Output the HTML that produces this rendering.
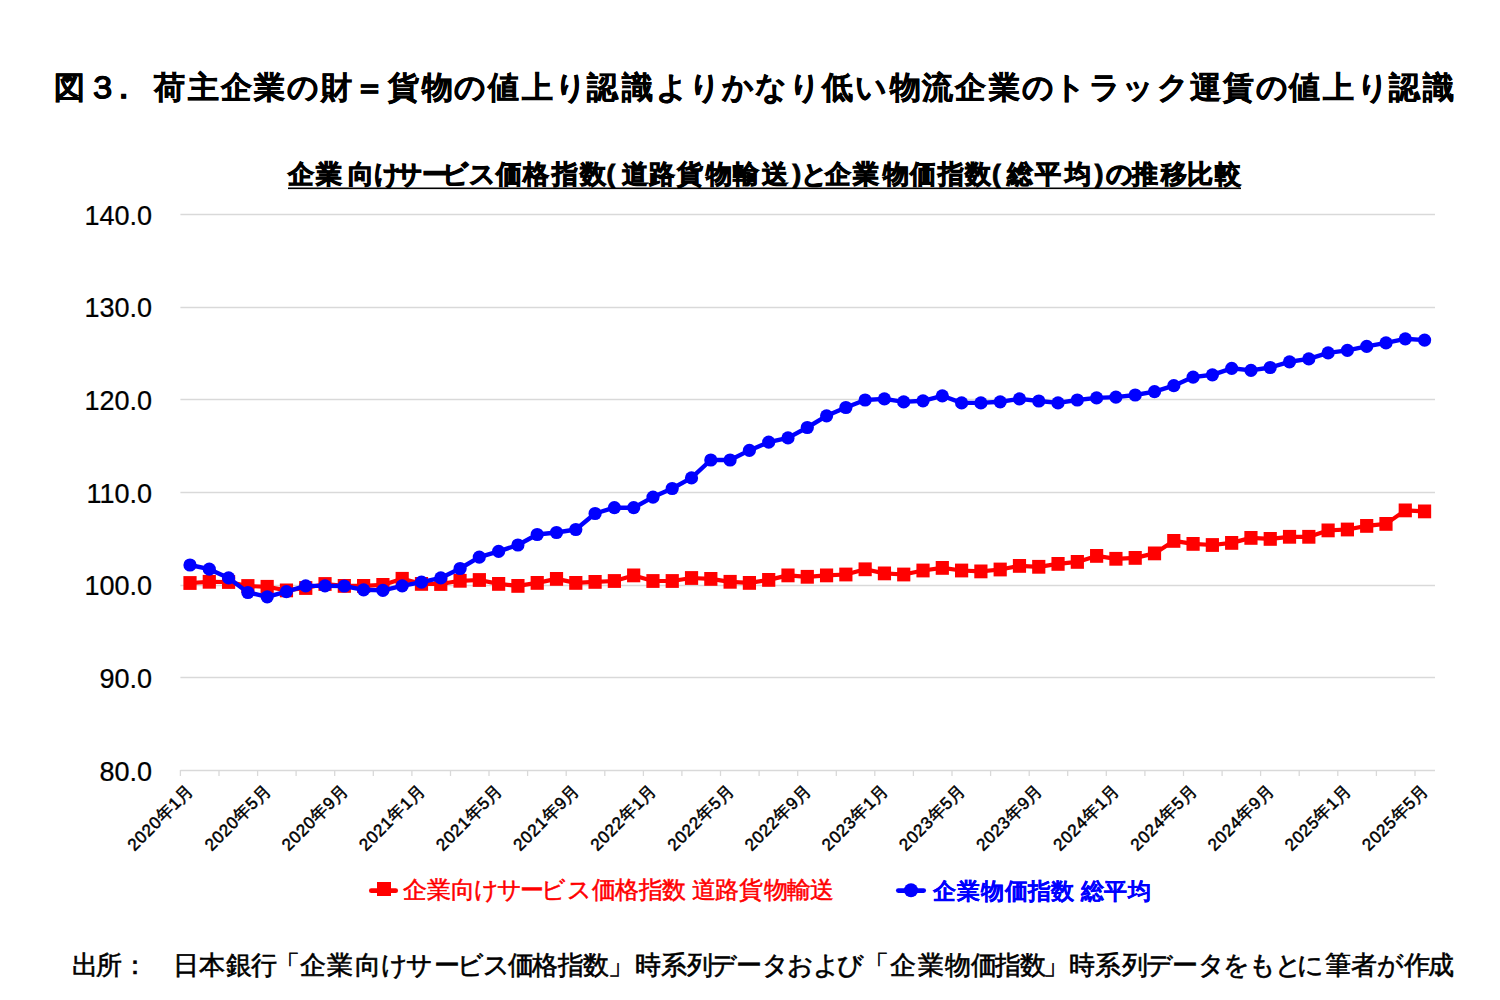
<!DOCTYPE html>
<html><head><meta charset="utf-8"><title>chart</title>
<style>
html,body{margin:0;padding:0;background:#fff;}
svg{display:block;}
text{font-family:'Liberation Sans', sans-serif;}
</style></head><body>
<svg width="1500" height="1000" viewBox="0 0 1500 1000">
<rect width="1500" height="1000" fill="#fff"/>
<text stroke="#000" stroke-width="0.5" x="54.0 86.9 107.5 154.2 187.6 220.5 254.4 287.3 320.7 354.1 387.5 422.4 454.3 487.7 521.6 555.0 587.4 621.8 655.7 688.6 721.5 755.4 788.8 821.7 854.6 890.0 921.9 955.3 989.2 1022.1 1053.5 1089.4 1122.3 1157.2 1189.6 1223.0 1255.9 1289.3 1323.2 1356.6 1389.0 1423.4" y="98.3" font-size="31" font-weight="bold" fill="#000">図３．荷主企業の財＝貨物の値上り認識よりかなり低い物流企業のトラック運賃の値上り認識</text>
<text stroke="#000" stroke-width="0.9" x="287.6 316.0 347.9 374.2 396.4 421.5 441.9 468.5 495.9 523.0 552.0 579.6 606.4 621.9 649.0 677.0 706.1 733.0 761.9 792.4 800.8 825.3 853.3 882.9 910.2 938.0 965.3 992.0 1007.3 1035.3 1064.5 1094.7 1105.8 1131.7 1160.5 1186.5 1215.0" y="183.3" font-size="26" font-weight="bold" fill="#000">企業向けサービス価格指数(道路貨物輸送)と企業物価指数(総平均)の推移比較</text>
<rect x="288" y="187.5" width="953" height="1.6" fill="#000"/>
<line x1="180.4" y1="214.5" x2="1435" y2="214.5" stroke="#d9d9d9" stroke-width="1.3"/>
<text transform="translate(152,224.6) scale(0.965,1)" font-size="28" fill="#000" text-anchor="end" stroke="#000" stroke-width="0.25">140.0</text>
<line x1="180.4" y1="307.5" x2="1435" y2="307.5" stroke="#d9d9d9" stroke-width="1.3"/>
<text transform="translate(152,317.3) scale(0.965,1)" font-size="28" fill="#000" text-anchor="end" stroke="#000" stroke-width="0.25">130.0</text>
<line x1="180.4" y1="399.5" x2="1435" y2="399.5" stroke="#d9d9d9" stroke-width="1.3"/>
<text transform="translate(152,409.9) scale(0.965,1)" font-size="28" fill="#000" text-anchor="end" stroke="#000" stroke-width="0.25">120.0</text>
<line x1="180.4" y1="492.5" x2="1435" y2="492.5" stroke="#d9d9d9" stroke-width="1.3"/>
<text transform="translate(152,502.6) scale(0.965,1)" font-size="28" fill="#000" text-anchor="end" stroke="#000" stroke-width="0.25">110.0</text>
<line x1="180.4" y1="585.5" x2="1435" y2="585.5" stroke="#d9d9d9" stroke-width="1.3"/>
<text transform="translate(152,595.3) scale(0.965,1)" font-size="28" fill="#000" text-anchor="end" stroke="#000" stroke-width="0.25">100.0</text>
<line x1="180.4" y1="677.5" x2="1435" y2="677.5" stroke="#d9d9d9" stroke-width="1.3"/>
<text transform="translate(152,687.9) scale(0.965,1)" font-size="28" fill="#000" text-anchor="end" stroke="#000" stroke-width="0.25">90.0</text>
<text transform="translate(152,780.6) scale(0.965,1)" font-size="28" fill="#000" text-anchor="end" stroke="#000" stroke-width="0.25">80.0</text>
<line x1="180.4" y1="770.5" x2="1435" y2="770.5" stroke="#d9d9d9" stroke-width="1.5"/>
<line x1="180.4" y1="770" x2="180.4" y2="776" stroke="#d9d9d9" stroke-width="1.3"/>
<line x1="219.0" y1="770" x2="219.0" y2="776" stroke="#d9d9d9" stroke-width="1.3"/>
<line x1="257.6" y1="770" x2="257.6" y2="776" stroke="#d9d9d9" stroke-width="1.3"/>
<line x1="296.1" y1="770" x2="296.1" y2="776" stroke="#d9d9d9" stroke-width="1.3"/>
<line x1="334.7" y1="770" x2="334.7" y2="776" stroke="#d9d9d9" stroke-width="1.3"/>
<line x1="373.3" y1="770" x2="373.3" y2="776" stroke="#d9d9d9" stroke-width="1.3"/>
<line x1="411.9" y1="770" x2="411.9" y2="776" stroke="#d9d9d9" stroke-width="1.3"/>
<line x1="450.5" y1="770" x2="450.5" y2="776" stroke="#d9d9d9" stroke-width="1.3"/>
<line x1="489.0" y1="770" x2="489.0" y2="776" stroke="#d9d9d9" stroke-width="1.3"/>
<line x1="527.6" y1="770" x2="527.6" y2="776" stroke="#d9d9d9" stroke-width="1.3"/>
<line x1="566.2" y1="770" x2="566.2" y2="776" stroke="#d9d9d9" stroke-width="1.3"/>
<line x1="604.8" y1="770" x2="604.8" y2="776" stroke="#d9d9d9" stroke-width="1.3"/>
<line x1="643.4" y1="770" x2="643.4" y2="776" stroke="#d9d9d9" stroke-width="1.3"/>
<line x1="681.9" y1="770" x2="681.9" y2="776" stroke="#d9d9d9" stroke-width="1.3"/>
<line x1="720.5" y1="770" x2="720.5" y2="776" stroke="#d9d9d9" stroke-width="1.3"/>
<line x1="759.1" y1="770" x2="759.1" y2="776" stroke="#d9d9d9" stroke-width="1.3"/>
<line x1="797.7" y1="770" x2="797.7" y2="776" stroke="#d9d9d9" stroke-width="1.3"/>
<line x1="836.3" y1="770" x2="836.3" y2="776" stroke="#d9d9d9" stroke-width="1.3"/>
<line x1="874.8" y1="770" x2="874.8" y2="776" stroke="#d9d9d9" stroke-width="1.3"/>
<line x1="913.4" y1="770" x2="913.4" y2="776" stroke="#d9d9d9" stroke-width="1.3"/>
<line x1="952.0" y1="770" x2="952.0" y2="776" stroke="#d9d9d9" stroke-width="1.3"/>
<line x1="990.6" y1="770" x2="990.6" y2="776" stroke="#d9d9d9" stroke-width="1.3"/>
<line x1="1029.2" y1="770" x2="1029.2" y2="776" stroke="#d9d9d9" stroke-width="1.3"/>
<line x1="1067.7" y1="770" x2="1067.7" y2="776" stroke="#d9d9d9" stroke-width="1.3"/>
<line x1="1106.3" y1="770" x2="1106.3" y2="776" stroke="#d9d9d9" stroke-width="1.3"/>
<line x1="1144.9" y1="770" x2="1144.9" y2="776" stroke="#d9d9d9" stroke-width="1.3"/>
<line x1="1183.5" y1="770" x2="1183.5" y2="776" stroke="#d9d9d9" stroke-width="1.3"/>
<line x1="1222.1" y1="770" x2="1222.1" y2="776" stroke="#d9d9d9" stroke-width="1.3"/>
<line x1="1260.6" y1="770" x2="1260.6" y2="776" stroke="#d9d9d9" stroke-width="1.3"/>
<line x1="1299.2" y1="770" x2="1299.2" y2="776" stroke="#d9d9d9" stroke-width="1.3"/>
<line x1="1337.8" y1="770" x2="1337.8" y2="776" stroke="#d9d9d9" stroke-width="1.3"/>
<line x1="1376.4" y1="770" x2="1376.4" y2="776" stroke="#d9d9d9" stroke-width="1.3"/>
<line x1="1415.0" y1="770" x2="1415.0" y2="776" stroke="#d9d9d9" stroke-width="1.3"/>
<text transform="translate(190.7,787) rotate(-45)" font-size="17" font-weight="normal" fill="#000" stroke="#000" stroke-width="0.5" letter-spacing="0.6" text-anchor="end" dy="0.35em">2020年1月</text>
<text transform="translate(267.9,787) rotate(-45)" font-size="17" font-weight="normal" fill="#000" stroke="#000" stroke-width="0.5" letter-spacing="0.6" text-anchor="end" dy="0.35em">2020年5月</text>
<text transform="translate(345.0,787) rotate(-45)" font-size="17" font-weight="normal" fill="#000" stroke="#000" stroke-width="0.5" letter-spacing="0.6" text-anchor="end" dy="0.35em">2020年9月</text>
<text transform="translate(422.2,787) rotate(-45)" font-size="17" font-weight="normal" fill="#000" stroke="#000" stroke-width="0.5" letter-spacing="0.6" text-anchor="end" dy="0.35em">2021年1月</text>
<text transform="translate(499.3,787) rotate(-45)" font-size="17" font-weight="normal" fill="#000" stroke="#000" stroke-width="0.5" letter-spacing="0.6" text-anchor="end" dy="0.35em">2021年5月</text>
<text transform="translate(576.5,787) rotate(-45)" font-size="17" font-weight="normal" fill="#000" stroke="#000" stroke-width="0.5" letter-spacing="0.6" text-anchor="end" dy="0.35em">2021年9月</text>
<text transform="translate(653.7,787) rotate(-45)" font-size="17" font-weight="normal" fill="#000" stroke="#000" stroke-width="0.5" letter-spacing="0.6" text-anchor="end" dy="0.35em">2022年1月</text>
<text transform="translate(730.8,787) rotate(-45)" font-size="17" font-weight="normal" fill="#000" stroke="#000" stroke-width="0.5" letter-spacing="0.6" text-anchor="end" dy="0.35em">2022年5月</text>
<text transform="translate(808.0,787) rotate(-45)" font-size="17" font-weight="normal" fill="#000" stroke="#000" stroke-width="0.5" letter-spacing="0.6" text-anchor="end" dy="0.35em">2022年9月</text>
<text transform="translate(885.1,787) rotate(-45)" font-size="17" font-weight="normal" fill="#000" stroke="#000" stroke-width="0.5" letter-spacing="0.6" text-anchor="end" dy="0.35em">2023年1月</text>
<text transform="translate(962.3,787) rotate(-45)" font-size="17" font-weight="normal" fill="#000" stroke="#000" stroke-width="0.5" letter-spacing="0.6" text-anchor="end" dy="0.35em">2023年5月</text>
<text transform="translate(1039.5,787) rotate(-45)" font-size="17" font-weight="normal" fill="#000" stroke="#000" stroke-width="0.5" letter-spacing="0.6" text-anchor="end" dy="0.35em">2023年9月</text>
<text transform="translate(1116.6,787) rotate(-45)" font-size="17" font-weight="normal" fill="#000" stroke="#000" stroke-width="0.5" letter-spacing="0.6" text-anchor="end" dy="0.35em">2024年1月</text>
<text transform="translate(1193.8,787) rotate(-45)" font-size="17" font-weight="normal" fill="#000" stroke="#000" stroke-width="0.5" letter-spacing="0.6" text-anchor="end" dy="0.35em">2024年5月</text>
<text transform="translate(1270.9,787) rotate(-45)" font-size="17" font-weight="normal" fill="#000" stroke="#000" stroke-width="0.5" letter-spacing="0.6" text-anchor="end" dy="0.35em">2024年9月</text>
<text transform="translate(1348.1,787) rotate(-45)" font-size="17" font-weight="normal" fill="#000" stroke="#000" stroke-width="0.5" letter-spacing="0.6" text-anchor="end" dy="0.35em">2025年1月</text>
<text transform="translate(1425.3,787) rotate(-45)" font-size="17" font-weight="normal" fill="#000" stroke="#000" stroke-width="0.5" letter-spacing="0.6" text-anchor="end" dy="0.35em">2025年5月</text>
<polyline points="190.0,583.0 209.3,581.8 228.6,582 247.9,586 267.2,586.8 286.4,590.4 305.7,588 325.0,584.0 344.3,585.9 363.6,585.9 382.9,584.9 402.2,578.8 421.5,583.9 440.8,584 460.1,580.8 479.3,580 498.6,583.9 517.9,585.9 537.2,582.9 556.5,578.9 575.8,582.9 595.1,581.9 614.4,581 633.7,575.4 653.0,581 672.2,581 691.5,578 710.8,578.9 730.1,581.8 749.4,582.9 768.7,579.9 788.0,575.4 807.3,576.8 826.6,575.4 845.9,574.5 865.1,569.3 884.4,573.4 903.7,574.5 923.0,570.5 942.3,567.9 961.6,570.5 980.9,571.4 1000.2,569.5 1019.5,565.9 1038.8,566.8 1058.0,563.9 1077.3,561.9 1096.6,555.9 1115.9,558.8 1135.2,557.9 1154.5,553.4 1173.8,540.9 1193.1,543.9 1212.4,545 1231.7,542.9 1251.0,537.9 1270.2,538.9 1289.5,536.8 1308.8,536.8 1328.1,530.4 1347.4,529.5 1366.7,525.9 1386.0,523.9 1405.3,510.4 1424.6,511.4" fill="none" stroke="#ff0000" stroke-width="4.2" stroke-linejoin="round"/>
<rect x="183.40" y="576.10" width="13.2" height="13.8" fill="#ff0000"/>
<rect x="202.69" y="574.90" width="13.2" height="13.8" fill="#ff0000"/>
<rect x="221.98" y="575.10" width="13.2" height="13.8" fill="#ff0000"/>
<rect x="241.27" y="579.10" width="13.2" height="13.8" fill="#ff0000"/>
<rect x="260.56" y="579.90" width="13.2" height="13.8" fill="#ff0000"/>
<rect x="279.85" y="583.50" width="13.2" height="13.8" fill="#ff0000"/>
<rect x="299.14" y="581.10" width="13.2" height="13.8" fill="#ff0000"/>
<rect x="318.43" y="577.10" width="13.2" height="13.8" fill="#ff0000"/>
<rect x="337.72" y="579.00" width="13.2" height="13.8" fill="#ff0000"/>
<rect x="357.01" y="579.00" width="13.2" height="13.8" fill="#ff0000"/>
<rect x="376.30" y="578.00" width="13.2" height="13.8" fill="#ff0000"/>
<rect x="395.59" y="571.90" width="13.2" height="13.8" fill="#ff0000"/>
<rect x="414.88" y="577.00" width="13.2" height="13.8" fill="#ff0000"/>
<rect x="434.17" y="577.10" width="13.2" height="13.8" fill="#ff0000"/>
<rect x="453.46" y="573.90" width="13.2" height="13.8" fill="#ff0000"/>
<rect x="472.75" y="573.10" width="13.2" height="13.8" fill="#ff0000"/>
<rect x="492.04" y="577.00" width="13.2" height="13.8" fill="#ff0000"/>
<rect x="511.33" y="579.00" width="13.2" height="13.8" fill="#ff0000"/>
<rect x="530.62" y="576.00" width="13.2" height="13.8" fill="#ff0000"/>
<rect x="549.91" y="572.00" width="13.2" height="13.8" fill="#ff0000"/>
<rect x="569.20" y="576.00" width="13.2" height="13.8" fill="#ff0000"/>
<rect x="588.49" y="575.00" width="13.2" height="13.8" fill="#ff0000"/>
<rect x="607.78" y="574.10" width="13.2" height="13.8" fill="#ff0000"/>
<rect x="627.07" y="568.50" width="13.2" height="13.8" fill="#ff0000"/>
<rect x="646.36" y="574.10" width="13.2" height="13.8" fill="#ff0000"/>
<rect x="665.65" y="574.10" width="13.2" height="13.8" fill="#ff0000"/>
<rect x="684.94" y="571.10" width="13.2" height="13.8" fill="#ff0000"/>
<rect x="704.23" y="572.00" width="13.2" height="13.8" fill="#ff0000"/>
<rect x="723.52" y="574.90" width="13.2" height="13.8" fill="#ff0000"/>
<rect x="742.81" y="576.00" width="13.2" height="13.8" fill="#ff0000"/>
<rect x="762.10" y="573.00" width="13.2" height="13.8" fill="#ff0000"/>
<rect x="781.39" y="568.50" width="13.2" height="13.8" fill="#ff0000"/>
<rect x="800.68" y="569.90" width="13.2" height="13.8" fill="#ff0000"/>
<rect x="819.97" y="568.50" width="13.2" height="13.8" fill="#ff0000"/>
<rect x="839.26" y="567.60" width="13.2" height="13.8" fill="#ff0000"/>
<rect x="858.55" y="562.40" width="13.2" height="13.8" fill="#ff0000"/>
<rect x="877.84" y="566.50" width="13.2" height="13.8" fill="#ff0000"/>
<rect x="897.13" y="567.60" width="13.2" height="13.8" fill="#ff0000"/>
<rect x="916.42" y="563.60" width="13.2" height="13.8" fill="#ff0000"/>
<rect x="935.71" y="561.00" width="13.2" height="13.8" fill="#ff0000"/>
<rect x="955.00" y="563.60" width="13.2" height="13.8" fill="#ff0000"/>
<rect x="974.29" y="564.50" width="13.2" height="13.8" fill="#ff0000"/>
<rect x="993.58" y="562.60" width="13.2" height="13.8" fill="#ff0000"/>
<rect x="1012.87" y="559.00" width="13.2" height="13.8" fill="#ff0000"/>
<rect x="1032.16" y="559.90" width="13.2" height="13.8" fill="#ff0000"/>
<rect x="1051.45" y="557.00" width="13.2" height="13.8" fill="#ff0000"/>
<rect x="1070.74" y="555.00" width="13.2" height="13.8" fill="#ff0000"/>
<rect x="1090.03" y="549.00" width="13.2" height="13.8" fill="#ff0000"/>
<rect x="1109.32" y="551.90" width="13.2" height="13.8" fill="#ff0000"/>
<rect x="1128.61" y="551.00" width="13.2" height="13.8" fill="#ff0000"/>
<rect x="1147.90" y="546.50" width="13.2" height="13.8" fill="#ff0000"/>
<rect x="1167.19" y="534.00" width="13.2" height="13.8" fill="#ff0000"/>
<rect x="1186.48" y="537.00" width="13.2" height="13.8" fill="#ff0000"/>
<rect x="1205.77" y="538.10" width="13.2" height="13.8" fill="#ff0000"/>
<rect x="1225.06" y="536.00" width="13.2" height="13.8" fill="#ff0000"/>
<rect x="1244.35" y="531.00" width="13.2" height="13.8" fill="#ff0000"/>
<rect x="1263.64" y="532.00" width="13.2" height="13.8" fill="#ff0000"/>
<rect x="1282.93" y="529.90" width="13.2" height="13.8" fill="#ff0000"/>
<rect x="1302.22" y="529.90" width="13.2" height="13.8" fill="#ff0000"/>
<rect x="1321.51" y="523.50" width="13.2" height="13.8" fill="#ff0000"/>
<rect x="1340.80" y="522.60" width="13.2" height="13.8" fill="#ff0000"/>
<rect x="1360.09" y="519.00" width="13.2" height="13.8" fill="#ff0000"/>
<rect x="1379.38" y="517.00" width="13.2" height="13.8" fill="#ff0000"/>
<rect x="1398.67" y="503.50" width="13.2" height="13.8" fill="#ff0000"/>
<rect x="1417.96" y="504.50" width="13.2" height="13.8" fill="#ff0000"/>
<polyline points="190.0,565 209.3,569.2 228.6,577.9 247.9,592.5 267.2,596.8 286.4,591.7 305.7,585.9 325.0,585.9 344.3,586 363.6,589.8 382.9,590.4 402.2,585.8 421.5,582.1 440.8,577.9 460.1,568.5 479.3,557.1 498.6,551.4 517.9,545 537.2,534.5 556.5,532.5 575.8,529.5 595.1,513.5 614.4,507.7 633.7,507.7 653.0,497.1 672.2,488.5 691.5,477.9 710.8,460 730.1,460 749.4,450.4 768.7,442.1 788.0,437.9 807.3,427.5 826.6,415.8 845.9,407.5 865.1,400 884.4,398.9 903.7,401.9 923.0,400.8 942.3,395.8 961.6,402.9 980.9,402.9 1000.2,401.8 1019.5,398.9 1038.8,401 1058.0,402.9 1077.3,400 1096.6,397.9 1115.9,397.1 1135.2,395 1154.5,391.7 1173.8,385.7 1193.1,377.1 1212.4,374.8 1231.7,368.3 1251.0,370.4 1270.2,367.5 1289.5,361.8 1308.8,358.9 1328.1,352.9 1347.4,350.4 1366.7,346.4 1386.0,342.9 1405.3,338.8 1424.6,340.1" fill="none" stroke="#0000ff" stroke-width="4.4" stroke-linejoin="round"/>
<circle cx="190.0" cy="565" r="6.6" fill="#0000ff"/>
<circle cx="209.3" cy="569.2" r="6.6" fill="#0000ff"/>
<circle cx="228.6" cy="577.9" r="6.6" fill="#0000ff"/>
<circle cx="247.9" cy="592.5" r="6.6" fill="#0000ff"/>
<circle cx="267.2" cy="596.8" r="6.6" fill="#0000ff"/>
<circle cx="286.4" cy="591.7" r="6.6" fill="#0000ff"/>
<circle cx="305.7" cy="585.9" r="6.6" fill="#0000ff"/>
<circle cx="325.0" cy="585.9" r="6.6" fill="#0000ff"/>
<circle cx="344.3" cy="586" r="6.6" fill="#0000ff"/>
<circle cx="363.6" cy="589.8" r="6.6" fill="#0000ff"/>
<circle cx="382.9" cy="590.4" r="6.6" fill="#0000ff"/>
<circle cx="402.2" cy="585.8" r="6.6" fill="#0000ff"/>
<circle cx="421.5" cy="582.1" r="6.6" fill="#0000ff"/>
<circle cx="440.8" cy="577.9" r="6.6" fill="#0000ff"/>
<circle cx="460.1" cy="568.5" r="6.6" fill="#0000ff"/>
<circle cx="479.3" cy="557.1" r="6.6" fill="#0000ff"/>
<circle cx="498.6" cy="551.4" r="6.6" fill="#0000ff"/>
<circle cx="517.9" cy="545" r="6.6" fill="#0000ff"/>
<circle cx="537.2" cy="534.5" r="6.6" fill="#0000ff"/>
<circle cx="556.5" cy="532.5" r="6.6" fill="#0000ff"/>
<circle cx="575.8" cy="529.5" r="6.6" fill="#0000ff"/>
<circle cx="595.1" cy="513.5" r="6.6" fill="#0000ff"/>
<circle cx="614.4" cy="507.7" r="6.6" fill="#0000ff"/>
<circle cx="633.7" cy="507.7" r="6.6" fill="#0000ff"/>
<circle cx="653.0" cy="497.1" r="6.6" fill="#0000ff"/>
<circle cx="672.2" cy="488.5" r="6.6" fill="#0000ff"/>
<circle cx="691.5" cy="477.9" r="6.6" fill="#0000ff"/>
<circle cx="710.8" cy="460" r="6.6" fill="#0000ff"/>
<circle cx="730.1" cy="460" r="6.6" fill="#0000ff"/>
<circle cx="749.4" cy="450.4" r="6.6" fill="#0000ff"/>
<circle cx="768.7" cy="442.1" r="6.6" fill="#0000ff"/>
<circle cx="788.0" cy="437.9" r="6.6" fill="#0000ff"/>
<circle cx="807.3" cy="427.5" r="6.6" fill="#0000ff"/>
<circle cx="826.6" cy="415.8" r="6.6" fill="#0000ff"/>
<circle cx="845.9" cy="407.5" r="6.6" fill="#0000ff"/>
<circle cx="865.1" cy="400" r="6.6" fill="#0000ff"/>
<circle cx="884.4" cy="398.9" r="6.6" fill="#0000ff"/>
<circle cx="903.7" cy="401.9" r="6.6" fill="#0000ff"/>
<circle cx="923.0" cy="400.8" r="6.6" fill="#0000ff"/>
<circle cx="942.3" cy="395.8" r="6.6" fill="#0000ff"/>
<circle cx="961.6" cy="402.9" r="6.6" fill="#0000ff"/>
<circle cx="980.9" cy="402.9" r="6.6" fill="#0000ff"/>
<circle cx="1000.2" cy="401.8" r="6.6" fill="#0000ff"/>
<circle cx="1019.5" cy="398.9" r="6.6" fill="#0000ff"/>
<circle cx="1038.8" cy="401" r="6.6" fill="#0000ff"/>
<circle cx="1058.0" cy="402.9" r="6.6" fill="#0000ff"/>
<circle cx="1077.3" cy="400" r="6.6" fill="#0000ff"/>
<circle cx="1096.6" cy="397.9" r="6.6" fill="#0000ff"/>
<circle cx="1115.9" cy="397.1" r="6.6" fill="#0000ff"/>
<circle cx="1135.2" cy="395" r="6.6" fill="#0000ff"/>
<circle cx="1154.5" cy="391.7" r="6.6" fill="#0000ff"/>
<circle cx="1173.8" cy="385.7" r="6.6" fill="#0000ff"/>
<circle cx="1193.1" cy="377.1" r="6.6" fill="#0000ff"/>
<circle cx="1212.4" cy="374.8" r="6.6" fill="#0000ff"/>
<circle cx="1231.7" cy="368.3" r="6.6" fill="#0000ff"/>
<circle cx="1251.0" cy="370.4" r="6.6" fill="#0000ff"/>
<circle cx="1270.2" cy="367.5" r="6.6" fill="#0000ff"/>
<circle cx="1289.5" cy="361.8" r="6.6" fill="#0000ff"/>
<circle cx="1308.8" cy="358.9" r="6.6" fill="#0000ff"/>
<circle cx="1328.1" cy="352.9" r="6.6" fill="#0000ff"/>
<circle cx="1347.4" cy="350.4" r="6.6" fill="#0000ff"/>
<circle cx="1366.7" cy="346.4" r="6.6" fill="#0000ff"/>
<circle cx="1386.0" cy="342.9" r="6.6" fill="#0000ff"/>
<circle cx="1405.3" cy="338.8" r="6.6" fill="#0000ff"/>
<circle cx="1424.6" cy="340.1" r="6.6" fill="#0000ff"/>
<line x1="371.3" y1="890.7" x2="395.7" y2="890.7" stroke="#ff0000" stroke-width="4.7" stroke-linecap="round"/>
<rect x="377" y="882" width="14" height="14" fill="#ff0000"/>
<text stroke="#ff0000" stroke-width="0.5" x="402.7 427.0 450.9 474.1 496.9 520.4 541.0 567.0 592.0 615.2 638.7 661.6 692.0 715.3 738.7 763.5 786.5 810.3" y="898.3" font-size="24" font-weight="normal" fill="#ff0000">企業向けサービス価格指数道路貨物輸送</text>
<line x1="898.3" y1="890.6" x2="923.7" y2="890.6" stroke="#0000ff" stroke-width="4.7" stroke-linecap="round"/>
<circle cx="911" cy="890.2" r="7" fill="#0000ff"/>
<text stroke="#0000ff" stroke-width="0.15" x="933.1 956.6 981.4 1005.3 1028.0 1050.7 1080.5 1104.3 1128.0" y="898.8" font-size="23" font-weight="bold" fill="#0000ff">企業物価指数総平均</text>
<text stroke="#000" stroke-width="0.6" x="72.1 96.3 121.5 173.3 198.9 225.6 250.8 274.1 300.2 327.1 354.6 381.1 405.9 433.9 456.6 482.5 507.7 532.4 558.1 583.0 607.6 634.8 660.5 686.6 710.3 736.0 761.8 786.9 812.7 837.2 863.2 890.2 917.8 944.9 970.6 995.3 1019.5 1042.8 1069.4 1095.3 1122.0 1146.1 1171.8 1198.0 1223.2 1248.8 1275.0 1297.3 1325.4 1351.2 1377.3 1404.0 1427.8" y="973.5" font-size="25.5" font-weight="normal" fill="#000">出所：日本銀行「企業向けサービス価格指数」時系列データおよび「企業物価指数」時系列データをもとに筆者が作成</text>
</svg>
</body></html>
